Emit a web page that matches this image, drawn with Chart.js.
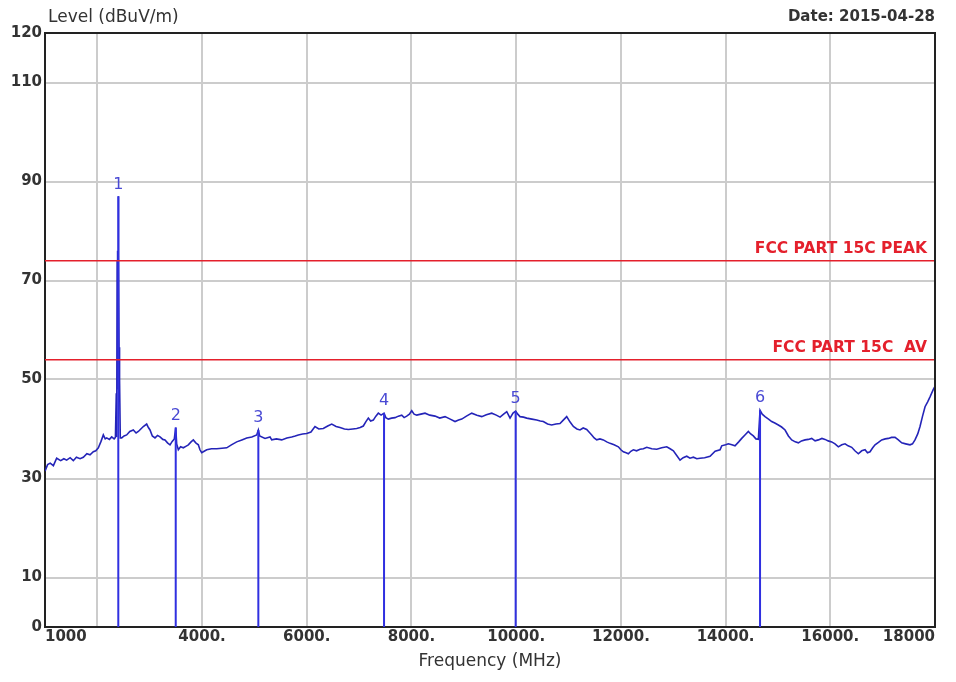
<!DOCTYPE html>
<html>
<head>
<meta charset="utf-8">
<script src="https://cdn.jsdelivr.net/npm/chart.js@4.4.1/dist/chart.umd.min.js"></script>
<style>
  html, body { margin: 0; padding: 0; background: #ffffff; }
  canvas { display: block; }
</style>
</head>
<body>
<canvas id="myChart" width="956" height="682"></canvas>
<script>
// Trace (MHz / dBuV/m)
const freqMHz = [
  1000, 1050, 1100, 1160, 1223, 1300, 1360, 1414, 1480, 1541, 1600, 1670, 1732, 1800, 1860, 1923, 1970, 2019, 2070, 2114,
  2150, 2178, 2230, 2274, 2320, 2345, 2362, 2370, 2378, 2384, 2390, 2396, 2400, 2404, 2408, 2414, 2420, 2428, 2438,
  2465, 2510, 2560, 2620, 2687, 2740,
  2783, 2830, 2878, 2942, 2975, 3006, 3050, 3101, 3150, 3197, 3250, 3292, 3340, 3388, 3430, 3470, 3497, 3515, 3547, 3590,
  3642, 3690, 3738, 3790, 3833, 3880, 3929, 3960, 3993, 4040, 4089, 4180, 4280, 4380, 4471, 4560, 4662, 4760, 4853, 4950,
  5044, 5075, 5100, 5203, 5298, 5330, 5420, 5521, 5620, 5712, 5780, 5839, 5920, 5999, 6080, 6157, 6230, 6316, 6400, 6477,
  6560, 6635, 6720, 6794, 6880, 6954, 7020, 7080, 7130, 7176, 7220, 7271, 7320, 7367, 7420, 7476, 7510, 7558, 7620, 7686,
  7750, 7814, 7860, 7909, 7960, 8005, 8050, 8101, 8180, 8259, 8350, 8450, 8540, 8641, 8740, 8832, 8900, 8960, 9050, 9151,
  9250, 9342, 9430, 9533, 9620, 9692, 9760, 9820, 9883, 9940, 9990, 10030, 10073, 10140, 10201, 10300, 10392, 10460, 10519, 10600,
  10678, 10760, 10837, 10900, 10965, 11030, 11092, 11160, 11219, 11280, 11347, 11400, 11443, 11490, 11538, 11600, 11665, 11730, 11793, 11870,
  11952, 12000, 12047, 12100, 12143, 12190, 12238, 12300, 12366, 12430, 12494, 12590, 12685, 12780, 12876, 12940, 13003, 13070, 13130, 13190,
  13258, 13320, 13385, 13450, 13512, 13600, 13703, 13800, 13894, 13926, 14000, 14053, 14120, 14180, 14250, 14308, 14370, 14435, 14480, 14530,
  14580, 14626, 14658, 14700, 14753, 14820, 14881, 14940, 15008, 15070, 15136, 15200, 15263, 15330, 15390, 15450, 15518, 15580, 15645, 15710,
  15772, 15840, 15900, 15960, 16027, 16090, 16154, 16220, 16282, 16340, 16409, 16470, 16536, 16600, 16664, 16710, 16759, 16810, 16855, 16920,
  16982, 17050, 17109, 17170, 17237, 17300, 17364, 17440, 17523, 17570, 17618, 17670, 17714, 17760, 17810, 17860, 17905, 17968, 18000
];
const levelDb = [
  31.5, 32.8, 33.1, 32.6, 34.1, 33.6, 34.0, 33.7, 34.2, 33.6, 34.3, 34.0, 34.3, 35.0, 34.8, 35.4, 35.6, 36.2, 37.5, 38.8,
  38.0, 38.2, 37.9, 38.4, 38.0, 38.3, 47.2, 38.4, 74.0, 48.0, 76.0, 50.0, 87.0, 52.0, 75.0, 56.5, 48.0, 50.0, 38.2,
  38.2, 38.6, 38.8, 39.5, 39.8, 39.2,
  39.5, 40.0, 40.5, 41.0, 40.3, 39.8, 38.6, 38.2, 38.7, 38.4, 37.9, 37.8, 37.2, 36.8, 37.5, 38.0, 40.3, 37.0, 35.8, 36.4,
  36.2, 36.5, 36.8, 37.4, 37.8, 37.2, 36.8, 35.8, 35.2, 35.5, 35.8, 36.0, 36.0, 36.1, 36.2, 36.8, 37.4, 37.8, 38.2, 38.4,
  38.8, 39.8, 38.6, 38.1, 38.4, 37.8, 38.0, 37.8, 38.2, 38.4, 38.6, 38.8, 39.0, 39.1, 39.4, 40.5, 40.0, 40.1, 40.6, 41.0,
  40.5, 40.3, 40.0, 39.9, 40.0, 40.1, 40.3, 40.6, 41.5, 42.2, 41.6, 41.8, 42.6, 43.2, 42.8, 43.2, 42.3, 42.0, 42.2, 42.3,
  42.6, 42.8, 42.3, 42.6, 43.0, 43.7, 43.0, 42.8, 43.0, 43.2, 42.8, 42.6, 42.2, 42.5, 42.0, 41.5, 41.8, 42.0, 42.6, 43.2,
  42.8, 42.5, 42.9, 43.2, 42.8, 42.4, 43.0, 43.5, 42.2, 43.2, 43.6, 43.0, 42.5, 42.4, 42.2, 42.0, 41.8, 41.6, 41.5, 41.0,
  40.8, 41.0, 41.1, 41.8, 42.5, 41.4, 40.5, 40.0, 39.8, 40.2, 39.9, 39.3, 38.8, 38.2, 37.8, 38.0, 37.8, 37.4, 37.1, 36.8,
  36.4, 35.8, 35.4, 35.2, 35.0, 35.5, 35.8, 35.6, 35.9, 36.0, 36.3, 36.0, 35.9, 36.2, 36.4, 36.0, 35.6, 34.6, 33.7, 34.2,
  34.5, 34.1, 34.3, 34.0, 34.1, 34.2, 34.5, 35.5, 35.8, 36.6, 36.8, 37.0, 36.8, 36.6, 37.4, 38.1, 38.8, 39.5, 39.0, 38.6,
  38.0, 37.9, 43.8, 43.0, 42.5, 42.0, 41.5, 41.2, 40.8, 40.4, 39.8, 38.6, 37.8, 37.4, 37.2, 37.6, 37.8, 37.9, 38.1, 37.6,
  37.8, 38.1, 37.9, 37.6, 37.4, 37.0, 36.4, 36.8, 37.0, 36.6, 36.3, 35.6, 35.0, 35.6, 35.8, 35.2, 35.4, 36.2, 36.8, 37.3,
  37.8, 38.0, 38.1, 38.3, 38.3, 37.8, 37.2, 37.0, 36.8, 37.0, 37.8, 39.0, 40.5, 42.5, 44.5, 45.5, 46.5, 48.0, 48.6
];

// Markers 1..6
const markerNames = ["1", "2", "3", "4", "5", "6"];
const markerFreq = [2400, 3497, 5075, 7476, 9990, 14658];
const markerLevel = [87.0, 40.3, 39.8, 43.2, 43.6, 43.8];

// Limit lines
const limitNames = ["FCC PART 15C PEAK", "FCC PART 15C  AV"];
const limitLevel = [74, 54];

// Axes
const xTickValues = [1000, 2000, 4000, 6000, 8000, 10000, 12000, 14000, 16000, 18000];
const xTickLabels = ["1000", "", "4000.", "6000.", "8000.", "10000.", "12000.", "14000.", "16000.", "18000"];
const yTickValues = [0, 10, 30, 50, 70, 90, 110, 120];

Chart.defaults.font.family = "'DejaVu Sans', sans-serif";
Chart.defaults.color = "#333333";

// Trazo principal
const traceData = freqMHz.map((f, i) => ({ x: f, y: levelDb[i] }));

// Líneas verticales de los marcadores (separadas por null)
const markerLines = [];
markerFreq.forEach((f, i) => {
    markerLines.push({ x: f, y: 0 });
    markerLines.push({ x: f, y: markerLevel[i] });
    markerLines.push({ x: f, y: null });
});

const limitSets = limitLevel.map((lv, i) => ({
    label: limitNames[i],
    data: [{ x: 1000, y: lv }, { x: 18000, y: lv }],
    borderColor: "#e4202c",
    borderWidth: 1.6,
    pointRadius: 0
}));

// Textos: títulos, etiquetas de límites, números de marcador, marco
const annotations = {
    id: "annotations",
    afterDatasetsDraw(chart) {
        const { ctx, chartArea, scales: { x, y } } = chart;
        ctx.save();

        ctx.strokeStyle = "#222222";
        ctx.lineWidth = 2;
        ctx.beginPath();
        ctx.moveTo(chartArea.left, chartArea.top);
        ctx.lineTo(chartArea.right, chartArea.top);
        ctx.lineTo(chartArea.right, chartArea.bottom);
        ctx.stroke();

        ctx.textBaseline = "middle";
        ctx.fillStyle = "#333333";
        ctx.textAlign = "left";
        ctx.font = "17px 'DejaVu Sans'";
        ctx.fillText("Level (dBuV/m)", chartArea.left + 3, 18);
        ctx.textAlign = "right";
        ctx.font = "bold 15px 'DejaVu Sans'";
        ctx.fillText("Date: 2015-04-28", chartArea.right, 17);

        ctx.fillStyle = "#e4202c";
        ctx.font = "bold 15.5px 'DejaVu Sans'";
        limitLevel.forEach((lv, i) => {
            ctx.fillText(limitNames[i], x.getPixelForValue(18000) - 8, y.getPixelForValue(lv) - 12);
        });

        ctx.fillStyle = "#4a4ad4";
        ctx.textAlign = "center";
        ctx.font = "16px 'DejaVu Sans'";
        markerFreq.forEach((f, i) => {
            ctx.fillText(markerNames[i], x.getPixelForValue(f), y.getPixelForValue(markerLevel[i]) - 12);
        });

        ctx.restore();
    }
};

new Chart(document.getElementById("myChart").getContext("2d"), {
    type: "line",
    data: {
        datasets: [
            ...limitSets,
            {
                label: "Markers",
                data: markerLines,
                borderColor: "#3030e0",
                borderWidth: 2,
                pointRadius: 0,
                spanGaps: false
            },
            {
                label: "Level",
                data: traceData,
                borderColor: "#2424b8",
                borderWidth: 1.6,
                pointRadius: 0,
                tension: 0
            }
        ]
    },
    options: {
        responsive: false,
        animation: false,
        events: [],
        layout: { padding: { left: 0, right: 21, top: 33, bottom: 0 } },
        plugins: {
            legend: { display: false },
            tooltip: { enabled: false },
            title: { display: false }
        },
        scales: {
            x: {
                type: "linear",
                min: 1000,
                max: 18000,
                afterBuildTicks: (scale) => { scale.ticks = xTickValues.map(v => ({ value: v })); },
                afterFit: (scale) => { scale.height = 55; },
                ticks: {
                    autoSkip: false,
                    maxRotation: 0,
                    align: "inner",
                    padding: 1,
                    color: "#333333",
                    font: { size: 15, weight: "bold" },
                    callback: (value, index) => xTickLabels[index]
                },
                grid: { color: "#cccccc", lineWidth: 2, drawTicks: false },
                border: { color: "#222222", width: 2 },
                title: {
                    display: true,
                    text: "Frequency (MHz)",
                    color: "#333333",
                    font: { size: 17 },
                    padding: { top: 0, bottom: 10 }
                }
            },
            y: {
                min: 0,
                max: 120,
                afterBuildTicks: (scale) => { scale.ticks = yTickValues.map(v => ({ value: v })); },
                afterFit: (scale) => { scale.width = 45; },
                ticks: {
                    padding: 3,
                    color: "#333333",
                    font: { size: 15, weight: "bold" }
                },
                grid: { color: "#cccccc", lineWidth: 2, drawTicks: false },
                border: { color: "#222222", width: 2 }
            }
        }
    },
    plugins: [annotations]
});
</script>
</body>
</html>
